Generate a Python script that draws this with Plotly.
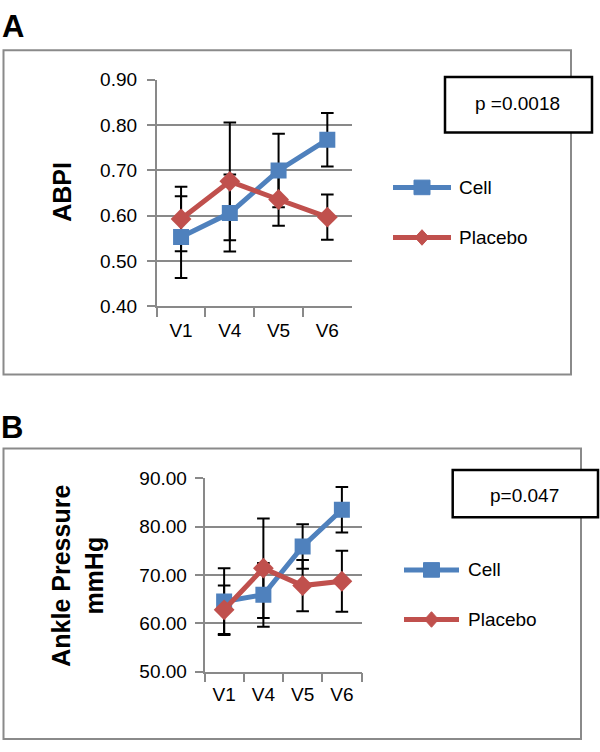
import plotly.graph_objects as go

W, H = 600, 752

# ---------------- data ----------------
visits = ["V1", "V4", "V5", "V6"]
series_names = ["Cell", "Placebo"]

abpi_cell = [0.553, 0.606, 0.700, 0.768]
abpi_cell_err = [0.090, 0.085, 0.081, 0.059]
abpi_placebo = [0.593, 0.676, 0.636, 0.597]
abpi_placebo_err = [0.071, 0.130, 0.058, 0.050]

ankle_cell = [64.5, 65.9, 75.9, 83.5]
ankle_cell_err = [6.9, 6.6, 4.6, 4.7]
ankle_placebo = [62.8, 71.4, 67.8, 68.7]
ankle_placebo_err = [5.0, 10.3, 5.3, 6.3]

abpi_ticks = [0.40, 0.50, 0.60, 0.70, 0.80, 0.90]
ankle_ticks = [50, 60, 70, 80, 90]
p_texts = ["p =0.0018", "p=0.047"]
panel_letters = ["A", "B"]

# ---------------- style ----------------
BLUE = "#4F81BD"
RED = "#C0504D"
GRID = "#898989"
FONT = "Liberation Sans, Arial, Helvetica, sans-serif"


def px(x):
    return x / W


def py(y):
    return 1 - y / H


fig = go.Figure()

panels = [
    dict(xa="x", ya="y", cell=abpi_cell, cell_err=abpi_cell_err,
         plac=abpi_placebo, plac_err=abpi_placebo_err),
    dict(xa="x2", ya="y2", cell=ankle_cell, cell_err=ankle_cell_err,
         plac=ankle_placebo, plac_err=ankle_placebo_err),
]

for i, p in enumerate(panels):
    # error bars first (beneath lines and markers)
    for vals, errs in ((p["cell"], p["cell_err"]), (p["plac"], p["plac_err"])):
        fig.add_trace(go.Scatter(
            x=visits, y=vals, mode="markers", xaxis=p["xa"], yaxis=p["ya"],
            marker=dict(size=2, color="rgba(0,0,0,0)"),
            error_y=dict(type="data", array=errs, visible=True,
                         color="black", thickness=2, width=6.3),
            showlegend=False, hoverinfo="skip"))
    fig.add_trace(go.Scatter(
        x=visits, y=p["cell"], mode="lines+markers", name=series_names[0],
        xaxis=p["xa"], yaxis=p["ya"],
        line=dict(color=BLUE, width=5),
        marker=dict(symbol="square", size=16, color=BLUE),
        showlegend=False))
    fig.add_trace(go.Scatter(
        x=visits, y=p["plac"], mode="lines+markers", name=series_names[1],
        xaxis=p["xa"], yaxis=p["ya"],
        line=dict(color=RED, width=5),
        marker=dict(symbol="diamond", size=16, color=RED),
        showlegend=False))

axis_common_x = dict(
    type="category", showgrid=False, showline=True, linecolor=GRID, linewidth=1.6,
    ticks="outside", tickson="boundaries", ticklen=9, tickcolor=GRID, tickwidth=1.6,
    tickfont=dict(family=FONT, size=19, color="black"), zeroline=False,
    range=[-0.5, 3.5], fixedrange=True)
axis_common_y = dict(
    showgrid=True, gridcolor=GRID, gridwidth=1.6, showline=True, linecolor=GRID,
    linewidth=1.6, ticks="outside", ticklen=8, tickcolor=GRID, tickwidth=1.6,
    tickfont=dict(family=FONT, size=19, color="black"), zeroline=False,
    tickformat=".2f", fixedrange=True)

# panel A plot area
A_x0, A_x1, A_ytop, A_ybot = 156.7, 351.7, 71.8, 305.0
# panel B plot area
B_x0, B_x1, B_ytop, B_ybot = 204.5, 361.5, 481.7, 680.7

fig.update_layout(
    xaxis=dict(axis_common_x, domain=[px(A_x0), px(A_x1)], anchor="y",
               ticklabelstandoff=6),
    yaxis=dict(axis_common_y, domain=[py(A_ybot), py(A_ytop)], anchor="x",
               range=[0.4, 0.9], tickvals=abpi_ticks, ticklabelstandoff=6),
    xaxis2=dict(axis_common_x, domain=[px(B_x0), px(B_x1)], anchor="y2",
                ticklabelstandoff=5),
    yaxis2=dict(axis_common_y, domain=[py(B_ybot), py(B_ytop)], anchor="x2",
                range=[50, 90], tickvals=ankle_ticks, ticklabelstandoff=4),
)

shapes = []
annotations = []

# outer frames
for (x0, y0, x1, y1) in [(3.5, 41.5, 571, 375), (3.5, 451, 581, 750)]:
    shapes.append(dict(type="rect", xref="paper", yref="paper",
                       x0=px(x0), x1=px(x1), y0=py(y1), y1=py(y0),
                       line=dict(color="#8a8a8a", width=2), layer="below"))

# p-value boxes
pboxes = [(445, 69, 592, 126, 517, 96), (452.7, 473.3, 598, 521.7, 524, 499)]
for (x0, y0, x1, y1, tx, ty), txt in zip(pboxes, p_texts):
    shapes.append(dict(type="rect", xref="paper", yref="paper",
                       x0=px(x0), x1=px(x1), y0=py(y1), y1=py(y0),
                       line=dict(color="black", width=2.5), fillcolor="white"))
    annotations.append(dict(text=txt, xref="paper", yref="paper", x=px(tx), y=py(ty),
                            showarrow=False, xanchor="center", yanchor="middle",
                            font=dict(family=FONT, size=19, color="black")))

# panel letters
for (lx, ly), letter in zip([(12.5, 16.5), (12.2, 429.5)], panel_letters):
    annotations.append(dict(text="<b>%s</b>" % letter, xref="paper", yref="paper",
                            x=px(lx), y=py(ly), showarrow=False,
                            xanchor="center", yanchor="middle",
                            font=dict(family=FONT, size=31, color="black")))

# y-axis titles
annotations.append(dict(text="<b>ABPI</b>", xref="paper", yref="paper",
                        x=px(62), y=py(187), showarrow=False, textangle=-90,
                        xanchor="center", yanchor="middle",
                        font=dict(family=FONT, size=25, color="black")))
annotations.append(dict(text="<b>Ankle Pressure<br>mmHg</b>", xref="paper", yref="paper",
                        x=px(78), y=py(582), showarrow=False, textangle=-90,
                        xanchor="center", yanchor="middle",
                        font=dict(family=FONT, size=25, color="black")))

# legends (drawn manually)
legends = [(393, 451, 182.5, 234, 457), (404, 459, 576, 627, 466)]
for (lx0, lx1, ycell, yplac, tx) in legends:
    for yy, col, sym, name in ((ycell, BLUE, "square", series_names[0]),
                               (yplac, RED, "diamond", series_names[1])):
        shapes.append(dict(type="line", xref="paper", yref="paper",
                           x0=px(lx0), x1=px(lx1), y0=py(yy), y1=py(yy),
                           line=dict(color=col, width=5)))
        cx = (lx0 + lx1) / 2
        if sym == "square":
            shapes.append(dict(type="rect", xref="paper", yref="paper",
                               x0=px(cx - 8), x1=px(cx + 8),
                               y0=py(yy + 7.5), y1=py(yy - 7.5),
                               line=dict(color=col, width=1), fillcolor=col))
        else:
            path = "M %f %f L %f %f L %f %f L %f %f Z" % (
                px(cx), py(yy - 8), px(cx + 7), py(yy), px(cx), py(yy + 8),
                px(cx - 7), py(yy))
            shapes.append(dict(type="path", xref="paper", yref="paper", path=path,
                               line=dict(color=col, width=1), fillcolor=col))
        annotations.append(dict(text=name, xref="paper", yref="paper",
                                x=px(tx), y=py(yy), showarrow=False,
                                xanchor="left", yanchor="middle",
                                font=dict(family=FONT, size=19, color="black")))

fig.update_layout(
    width=W, height=H, margin=dict(l=0, r=0, t=0, b=0),
    paper_bgcolor="white", plot_bgcolor="white",
    showlegend=False, shapes=shapes, annotations=annotations,
    font=dict(family=FONT, color="black"),
)

fig.write_html(
    "out.html",
    config={"displayModeBar": False},
    post_script="document.body.style.margin='0';document.body.style.overflow='hidden';",
)
